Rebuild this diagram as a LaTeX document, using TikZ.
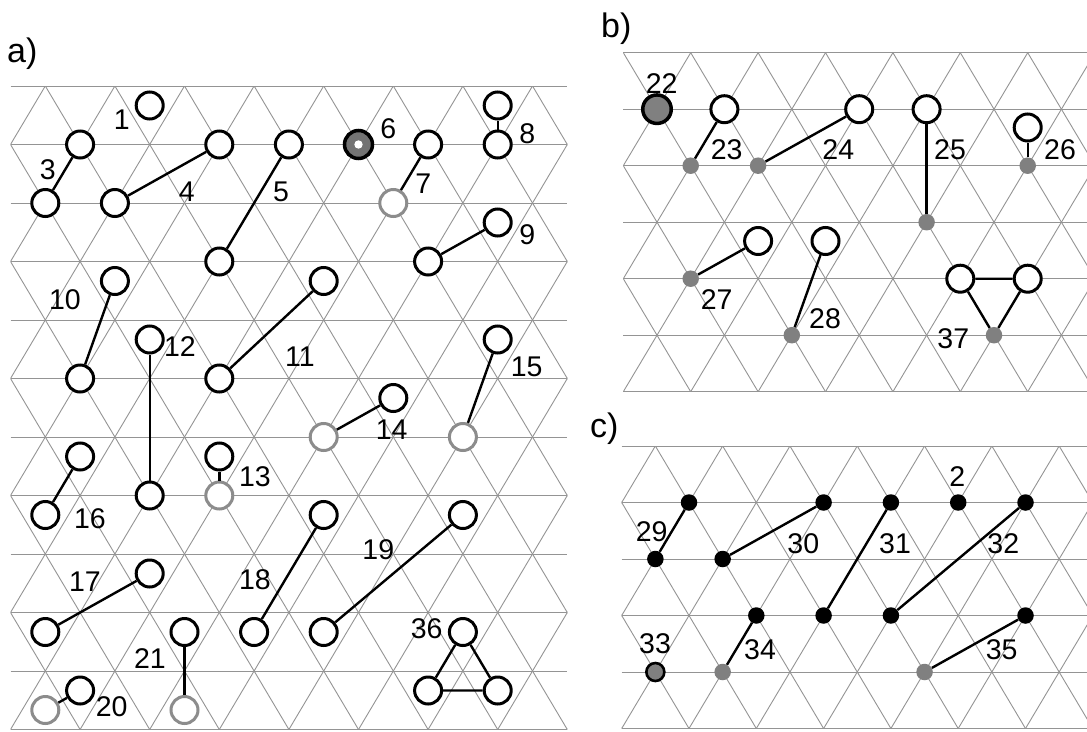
\documentclass[tikz,border=0pt]{standalone}
\usepackage{fontspec}
\setmainfont{Liberation Sans}
\newcommand{\trilattice}[7]{%
  \pgfmathsetmacro\ybot{#2+#5*#4}%
  \foreach \r in {0,...,#5} { \draw[latt] (#1,{#2+\r*#4}) -- (#6,{#2+\r*#4}); }%
  \begin{scope}
    \clip (#1,#2) rectangle (#6,\ybot);
    \foreach \k in {-12,...,20} {
      \pgfmathsetmacro\xt{#1+#7+\k*#3}
      \draw[latt] (\xt,#2) -- ({\xt+#5*#3/2},\ybot);
      \draw[latt] (\xt,#2) -- ({\xt-#5*#3/2},\ybot);
    }
  \end{scope}
}
\begin{document}
\begin{tikzpicture}[x=1pt,y=-1pt,
  latt/.style={draw=black!42, line width=0.9pt},
  site/.style={circle, draw=black, fill=white, line width=3pt, minimum size=27pt, inner sep=0pt},
  gsite/.style={site, draw=black!45},
  darksite/.style={site, fill=black!50},
  bdot/.style={circle, fill=black, minimum size=16.5pt, inner sep=0pt},
  gdot/.style={circle, fill=black!50, minimum size=16.5pt, inner sep=0pt},
  bond/.style={line width=2.4pt},
  lab/.style={inner sep=0pt, font=\fontsize{28.5}{30}\selectfont},
  ttl/.style={inner sep=0pt, anchor=base west, font=\fontsize{34}{36}\selectfont}]
\useasboundingbox[fill=white] (0,0) rectangle (1087,731);

% lattices
\trilattice{10.5}{86}{69.6}{58.5}{11}{567.3}{34.8}
\trilattice{623.3}{52.7}{67.4}{56.5}{6}{1087}{0}
\trilattice{621.7}{446}{67.3}{56.5}{5}{1087}{33.65}

% titles
\node[ttl] (ta) at (7,62) {a)};
\node[ttl] (tb) at (601,37) {b)};
\node[ttl] (tc) at (590,437) {c)};

% ---------------- panel a ----------------
\node[site] (n1) at (149.7,105.5) {};
\node[site] (n3a) at (80.1,144.5) {};
\node[site] (n3b) at (45.3,203) {};
\node[site] (n4a) at (114.9,203) {};
\node[site] (n4b) at (219.3,144.5) {};
\node[site] (n5a) at (288.9,144.5) {};
\node[site] (n5b) at (219.3,261.5) {};
\node[site, fill=black!55, line width=3.5pt, minimum size=28pt] (n6) at (358.5,144.5) {};
\fill[white] (n6.center) circle (4.2);
\node[site] (n7a) at (428.1,144.5) {};
\node[gsite] (n7b) at (393.3,203) {};
\node[site] (n8a) at (497.7,105.5) {};
\node[site] (n8b) at (497.7,144.5) {};
\node[site] (n9a) at (497.7,222.5) {};
\node[site] (n9b) at (428.1,261.5) {};
\node[site] (n10a) at (114.9,281) {};
\node[site] (n10b) at (80.1,378.5) {};
\node[site] (n11a) at (323.7,281) {};
\node[site] (n11b) at (219.3,378.5) {};
\node[site] (n12a) at (149.7,339.5) {};
\node[site] (n12b) at (149.7,495.5) {};
\node[site] (n13a) at (219.3,456.5) {};
\node[gsite] (n13b) at (219.3,495.5) {};
\node[site] (n14a) at (393.3,398) {};
\node[gsite] (n14b) at (323.7,437) {};
\node[site] (n15a) at (497.7,339.5) {};
\node[gsite] (n15b) at (462.9,437) {};
\node[site] (n16a) at (80.1,456.5) {};
\node[site] (n16b) at (45.3,515) {};
\node[site] (n17a) at (149.7,573.5) {};
\node[site] (n17b) at (45.3,632) {};
\node[site] (n18a) at (323.7,515) {};
\node[site] (n18b) at (254.1,632) {};
\node[site] (n19a) at (462.9,515) {};
\node[site] (n19b) at (323.7,632) {};
\node[gsite] (n20a) at (45.3,710) {};
\node[site] (n20b) at (80.1,690.5) {};
\node[site] (n21a) at (184.5,632) {};
\node[gsite] (n21b) at (184.5,710) {};
\node[site] (n36a) at (462.9,632) {};
\node[site] (n36b) at (428.1,690.5) {};
\node[site] (n36c) at (497.7,690.5) {};

\draw[bond] (n3a) -- (n3b);
\draw[bond] (n4a) -- (n4b);
\draw[bond] (n5a) -- (n5b);
\draw[bond] (n7a) -- (n7b);
\draw[bond] (n8a) -- (n8b);
\draw[bond] (n9a) -- (n9b);
\draw[bond] (n10a) -- (n10b);
\draw[bond] (n11a) -- (n11b);
\draw[bond] (n12a) -- (n12b);
\draw[bond] (n13a) -- (n13b);
\draw[bond] (n14a) -- (n14b);
\draw[bond] (n15a) -- (n15b);
\draw[bond] (n16a) -- (n16b);
\draw[bond] (n17a) -- (n17b);
\draw[bond] (n18a) -- (n18b);
\draw[bond] (n19a) -- (n19b);
\draw[bond] (n20a) -- (n20b);
\draw[bond] (n21a) -- (n21b);
\draw[bond] (n36a) -- (n36b) -- (n36c) -- (n36a);

\node[lab] (l1) at (121.7,120) {1};
\node[lab] (l3) at (47.7,170) {3};
\node[lab] (l4) at (186.7,191.7) {4};
\node[lab] (l5) at (281,191.7) {5};
\node[lab] (l6) at (388.3,128.3) {6};
\node[lab] (l7) at (423.3,183.3) {7};
\node[lab] (l8) at (527.3,133.3) {8};
\node[lab] (l9) at (527.3,235) {9};
\node[lab] (l10) at (65,300) {10};
\node[lab] (l11) at (300,356.7) {11};
\node[lab] (l12) at (180,346.7) {12};
\node[lab] (l13) at (255,476.7) {13};
\node[lab] (l14) at (391.7,430) {14};
\node[lab] (l15) at (526.7,366.7) {15};
\node[lab] (l16) at (90,518.3) {16};
\node[lab] (l17) at (85,581.7) {17};
\node[lab] (l18) at (255,580) {18};
\node[lab] (l19) at (378.3,550) {19};
\node[lab] (l20) at (111.7,706.7) {20};
\node[lab] (l21) at (150,658.3) {21};
\node[lab] (l36) at (426.7,628.3) {36};

% ---------------- panel b ----------------
\node[darksite, line width=3.5pt, minimum size=28.5pt] (n22) at (657,109.2) {};
\node[site] (n23a) at (724.4,109.2) {};
\node[gdot] (n23b) at (690.7,165.7) {};
\node[site] (n24a) at (859.2,109.2) {};
\node[gdot] (n24b) at (758.1,165.7) {};
\node[site] (n25a) at (926.6,109.2) {};
\node[gdot] (n25b) at (926.6,222.2) {};
\node[site] (n26a) at (1027.7,127.5) {};
\node[gdot] (n26b) at (1027.7,165.7) {};
\node[site] (n27a) at (758.1,241) {};
\node[gdot] (n27b) at (690.7,278.7) {};
\node[site] (n28a) at (825.5,241) {};
\node[gdot] (n28b) at (791.8,335.2) {};
\node[site] (n37a) at (960.3,278.7) {};
\node[site] (n37b) at (1027.7,278.7) {};
\node[gdot] (n37c) at (994,335.2) {};

\draw[bond] (n23a) -- (n23b);
\draw[bond] (n24a) -- (n24b);
\draw[bond] (n25a) -- (n25b);
\draw[bond] (n26a) -- (n26b);
\draw[bond] (n27a) -- (n27b);
\draw[bond] (n28a) -- (n28b);
\draw[bond] (n37a) -- (n37b) -- (n37c) -- (n37a);

\node[lab] (l22) at (661.7,83.3) {22};
\node[lab] (l23) at (726.7,150) {23};
\node[lab] (l24) at (838.3,150) {24};
\node[lab] (l25) at (950,150) {25};
\node[lab] (l26) at (1060,150) {26};
\node[lab] (l27) at (716.7,300) {27};
\node[lab] (l28) at (825,318.3) {28};
\node[lab] (l37) at (953.3,338.3) {37};

% ---------------- panel c ----------------
\node[bdot] (n29a) at (689,502.5) {};
\node[bdot] (n29b) at (655.35,559) {};
\node[bdot] (n30a) at (823.6,502.5) {};
\node[bdot] (n30b) at (722.65,559) {};
\node[bdot] (n31a) at (890.9,502.5) {};
\node[bdot] (n31b) at (823.6,615.5) {};
\node[bdot] (n2) at (958.2,502.5) {};
\node[bdot] (n32a) at (1025.5,502.5) {};
\node[bdot] (n32b) at (890.9,615.5) {};
\node[bdot] (n34a) at (756.3,615.5) {};
\node[gdot] (n34b) at (722.65,672) {};
\node[bdot] (n35a) at (1025.5,615.5) {};
\node[gdot] (n35b) at (924.55,672) {};
\node[darksite, line width=2.6pt, minimum size=18pt] (n33) at (655.35,672) {};

\draw[bond] (n29a) -- (n29b);
\draw[bond] (n30a) -- (n30b);
\draw[bond] (n31a) -- (n31b);
\draw[bond] (n32a) -- (n32b);
\draw[bond] (n34a) -- (n34b);
\draw[bond] (n35a) -- (n35b);

\node[lab] (l29) at (651.7,531.7) {29};
\node[lab] (l30) at (803.3,543.3) {30};
\node[lab] (l31) at (895,543.3) {31};
\node[lab] (l2) at (957.3,476.7) {2};
\node[lab] (l32) at (1003.3,543.3) {32};
\node[lab] (l33) at (655,643.3) {33};
\node[lab] (l34) at (760,650) {34};
\node[lab] (l35) at (1001.7,650) {35};
\end{tikzpicture}
\end{document}
